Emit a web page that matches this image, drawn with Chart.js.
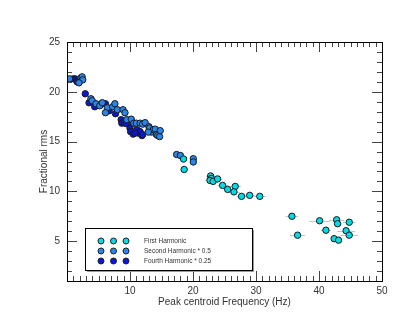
<!DOCTYPE html>
<html>
<head>
<meta charset="utf-8">
<script src="https://cdn.jsdelivr.net/npm/chart.js@4.4.1/dist/chart.umd.min.js"></script>
<style>
  html, body { margin: 0; padding: 0; background: #fff; }
  canvas { display: block; }
</style>
</head>
<body>
<canvas id="chart" width="415" height="332"></canvas>
<script>
// series names
const seriesNames = ['First Harmonic', 'Second Harmonic * 0.5', 'Fourth Harmonic * 0.25'];

// first harmonic (cyan)
const firstX   = [18.5, 18.6, 22.8, 22.9, 22.7, 23.2, 23.9, 24.7, 25.5, 26.7, 26.5, 27.7, 29.0, 30.6,
                  35.7, 36.6, 40.1, 41.1, 42.8, 42.95, 44.8, 44.3, 44.8, 42.4, 43.1];
const firstY   = [13.25, 12.2, 11.55, 11.3, 11.1, 11.0, 11.25, 10.6, 10.2, 10.5, 9.95, 9.5, 9.6, 9.5,
                  7.5, 5.6, 7.05, 6.1, 7.15, 6.75, 6.9, 6.05, 5.6, 5.25, 5.1];
const firstErr = [0.5, 0.6, 0.7, 0.8, 0.8, 0.8, 0.7, 0.8, 0.6, 0.9, 0.9, 0.8, 0.8, 1.0,
                  1.0, 1.2, 1.6, 0.8, 1.2, 0.6, 1.0, 1.4, 1.4, 0.5, 0.5];

// second harmonic * 0.5 (mid blue)
const secondX   = [0.4, 2.2, 2.4, 2.5, 1.9, 3.8, 4.0, 4.6, 5.2, 5.6, 6.4, 6.1, 7.25, 7.6, 8.0, 8.9,
                   9.2, 9.5, 10.2, 10.6, 11.0, 11.6, 12.0, 12.4, 13.0, 13.1, 13.4, 13.7, 14.0, 14.2,
                   14.4, 14.7, 14.8, 12.9, 17.4, 18.0, 20.05, 20.05];
const secondY   = [21.3, 21.4, 21.5, 21.2, 20.9, 19.3, 19.1, 18.8, 18.6, 18.9, 18.4, 17.9, 18.5, 18.8, 18.2, 18.2,
                   17.9, 17.2, 17.25, 16.85, 16.85, 16.85, 16.75, 16.9, 16.5, 16.35, 15.95, 16.2, 16.25, 15.7,
                   15.6, 15.5, 16.1, 15.95, 13.7, 13.6, 13.28, 12.95];
const secondErr = [0.3, 0.3, 0.3, 0.3, 0.3, 0.4, 0.4, 0.4, 0.4, 0.4, 0.4, 0.4, 0.4, 0.4, 0.4, 0.4,
                   0.4, 0.4, 0.4, 0.4, 0.4, 0.4, 0.4, 0.4, 0.4, 0.4, 0.4, 0.4, 0.4, 0.4,
                   0.4, 0.4, 0.4, 0.4, 0.5, 0.5, 0.5, 0.5];

// fourth harmonic * 0.25 (dark blue)
const fourthX   = [1.0, 1.3, 1.5, 1.6, 2.0, 2.9, 3.5, 4.4, 6.1, 6.7, 7.7, 8.6, 8.7, 9.1, 9.4,
                   10.0, 10.1, 10.4, 10.5, 11.1, 11.3, 11.6, 11.9, 12.0, 10.8];
const fourthY   = [21.3, 21.3, 21.2, 21.0, 21.1, 19.8, 18.9, 18.5, 18.8, 18.1, 17.8, 17.2, 16.85, 16.9, 16.8,
                   16.35, 16.0, 16.85, 15.75, 16.2, 15.85, 16.0, 15.6, 15.7, 15.85];
const fourthErr = [0.3, 0.3, 0.3, 0.3, 0.3, 0.3, 0.3, 0.3, 0.3, 0.3, 0.3, 0.3, 0.3, 0.3, 0.3,
                   0.3, 0.3, 0.3, 0.3, 0.3, 0.3, 0.3, 0.3, 0.3, 0.3];

// axis ticks
const xTickLabels = [10, 20, 30, 40, 50];
const yTickLabels = [5, 10, 15, 20, 25];

const colors = ['#00dbe6', '#2a86ea', '#0a18d6'];
const FONT = '"Liberation Sans", Arial, sans-serif';

function points(xs, ys) {
  return xs.map((x, i) => ({ x: x, y: ys[i] }));
}

// horizontal error bars, drawn under the markers
const errorBars = {
  id: 'errorBars',
  beforeDatasetsDraw(chart) {
    const ctx = chart.ctx, xs = chart.scales.x, ys = chart.scales.y;
    ctx.save();
    ctx.strokeStyle = '#c4c4c4';
    ctx.lineWidth = 1;
    chart.data.datasets.forEach(ds => {
      ds.data.forEach((p, i) => {
        const e = ds.xErr[i];
        const y = Math.round(ys.getPixelForValue(p.y)) + 0.5;
        ctx.beginPath();
        ctx.moveTo(xs.getPixelForValue(p.x - e), y);
        ctx.lineTo(xs.getPixelForValue(p.x + e), y);
        ctx.stroke();
      });
    });
    ctx.restore();
  }
};

// box frame with inward ticks on all four sides
const frameTicks = {
  id: 'frameTicks',
  afterDraw(chart) {
    const ctx = chart.ctx, a = chart.chartArea;
    const xs = chart.scales.x, ys = chart.scales.y;
    ctx.save();
    ctx.strokeStyle = '#444';
    ctx.lineWidth = 1;
    ctx.beginPath();
    for (let v = Math.ceil(xs.min); v <= xs.max; v++) {
      const len = v % 10 === 0 ? 10 : 5;
      const x = Math.round(xs.getPixelForValue(v)) + 0.5;
      ctx.moveTo(x, a.bottom); ctx.lineTo(x, a.bottom - len);
      ctx.moveTo(x, a.top); ctx.lineTo(x, a.top + len);
    }
    for (let v = Math.ceil(ys.min); v <= ys.max; v++) {
      const len = v % 5 === 0 ? 10 : 5;
      const y = Math.round(ys.getPixelForValue(v)) + 0.5;
      ctx.moveTo(a.left, y); ctx.lineTo(a.left + len, y);
      ctx.moveTo(a.right, y); ctx.lineTo(a.right - len, y);
    }
    ctx.stroke();
    ctx.strokeStyle = '#000';
    ctx.strokeRect(Math.round(a.left) + 0.5, Math.round(a.top) + 0.5,
                   Math.round(a.right - a.left), Math.round(a.bottom - a.top));
    ctx.restore();
  }
};

// legend box with three markers per entry
const markerLegend = {
  id: 'markerLegend',
  afterDraw(chart) {
    const ctx = chart.ctx;
    const bx = 85, by = 228, bw = 167, bh = 42;
    ctx.save();
    ctx.fillStyle = '#9a9a9a';
    ctx.fillRect(bx + 2, by + bh, bw, 2);
    ctx.fillRect(bx + bw, by + 2, 2, bh);
    ctx.fillStyle = '#fff';
    ctx.fillRect(bx, by, bw, bh);
    ctx.strokeStyle = '#000';
    ctx.lineWidth = 1;
    ctx.strokeRect(bx + 0.5, by + 0.5, bw, bh);
    chart.data.datasets.forEach((ds, r) => {
      const y = by + 13 + r * 10;
      for (let k = 0; k < 3; k++) {
        ctx.beginPath();
        ctx.arc(bx + 16 + k * 12.5, y, 3, 0, Math.PI * 2);
        ctx.fillStyle = ds.backgroundColor;
        ctx.fill();
        ctx.strokeStyle = '#222';
        ctx.stroke();
      }
      ctx.fillStyle = '#333';
      ctx.font = '6.5px ' + FONT;
      ctx.textBaseline = 'middle';
      ctx.fillText(ds.label, bx + 59, y + 0.5);
    });
    ctx.restore();
  }
};

const datasets = [
  { label: seriesNames[0], data: points(firstX, firstY), xErr: firstErr, backgroundColor: colors[0] },
  { label: seriesNames[1], data: points(secondX, secondY), xErr: secondErr, backgroundColor: colors[1] },
  { label: seriesNames[2], data: points(fourthX, fourthY), xErr: fourthErr, backgroundColor: colors[2] }
].map(d => Object.assign(d, {
  pointRadius: 3.2,
  pointBorderWidth: 1,
  borderColor: '#1a1a1a',
  pointBorderColor: '#1a1a1a'
}));

new Chart(document.getElementById('chart'), {
  type: 'scatter',
  data: { datasets: datasets },
  options: {
    responsive: false,
    animation: false,
    layout: { padding: { left: 0, right: 33, top: 42, bottom: 0 } },
    plugins: { legend: { display: false }, tooltip: { enabled: false } },
    scales: {
      x: {
        type: 'linear', min: 0, max: 50,
        grid: { display: false, drawTicks: false },
        border: { display: false },
        afterBuildTicks: s => { s.ticks = xTickLabels.map(v => ({ value: v })); },
        afterFit: s => { s.height = 51; },
        ticks: { padding: 4, color: '#333', font: { family: FONT, size: 10 }, maxRotation: 0 },
        title: { display: true, text: 'Peak centroid Frequency (Hz)', color: '#333',
                 font: { family: FONT, size: 10 }, padding: { top: 0, bottom: 24 } }
      },
      y: {
        type: 'linear', min: 1, max: 25,
        grid: { display: false, drawTicks: false },
        border: { display: false },
        afterBuildTicks: s => { s.ticks = yTickLabels.map(v => ({ value: v })); },
        afterFit: s => { s.width = 67; },
        ticks: { padding: 7, color: '#333', font: { family: FONT, size: 10 } },
        title: { display: true, text: 'Fractional rms', color: '#333',
                 font: { family: FONT, size: 10 }, padding: { top: 38, bottom: 0 } }
      }
    }
  },
  plugins: [errorBars, frameTicks, markerLegend]
});
</script>
</body>
</html>
